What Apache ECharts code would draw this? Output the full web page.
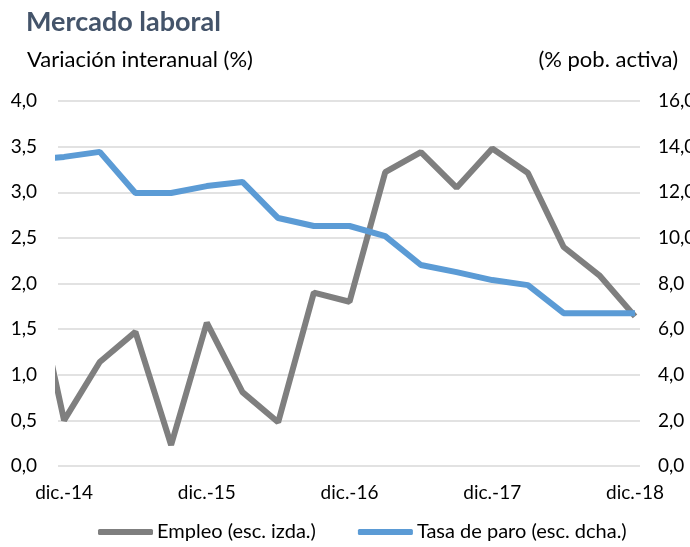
<!DOCTYPE html>
<html>
<head>
<meta charset="utf-8">
<script src="https://cdn.jsdelivr.net/npm/echarts@6/dist/echarts.min.js"></script>
<style>
  html, body { margin: 0; padding: 0; background: #fff; }
  #chart { width: 690px; height: 547px; }
</style>
</head>
<body>
<div id="chart"></div>
<script>
// trimestres, el primero (sep.-14) queda recortado por el borde del grafico
var quarters = ['sep.-14', 'dic.-14', 'mar.-15', 'jun.-15', 'sep.-15', 'dic.-15', 'mar.-16', 'jun.-16', 'sep.-16',
                'dic.-16', 'mar.-17', 'jun.-17', 'sep.-17', 'dic.-17', 'mar.-18', 'jun.-18', 'sep.-18', 'dic.-18'];
var empleo = [2.3, 0.50, 1.14, 1.47, 0.23, 1.57, 0.81, 0.48, 1.90, 1.80, 3.22, 3.44, 3.05, 3.48, 3.21, 2.40, 2.09, 1.64];
var paro = [13.4, 13.55, 13.77, 11.97, 11.97, 12.27, 12.45, 10.87, 10.52, 10.52, 10.08, 8.81, 8.50, 8.15, 7.93, 6.70, 6.70, 6.70];
var xTicks = ['dic.-14', 'dic.-15', 'dic.-16', 'dic.-17', 'dic.-18'];
var leftTicks = [0, 0.5, 1, 1.5, 2, 2.5, 3, 3.5, 4];
var rightTicks = [0, 2, 4, 6, 8, 10, 12, 14, 16];

var font = 'Lato, "Open Sans", sans-serif';

// posicion en el eje: dic.-14 = 0
function toPoints(arr) {
    var out = [];
    for (var i = 0; i < arr.length; i++) {
        out.push([i - 1, arr[i]]);
    }
    return out;
}
function coma(v) {
    return v.toFixed(1).replace('.', ',');
}

var option = {
    animation: false,
    title: [
        { text: 'Mercado laboral', left: 21, top: 4,
          textStyle: { fontFamily: font, fontSize: 27, fontWeight: 'bold', color: '#44546a' } },
        { text: 'Variación interanual (%)', left: 22, top: 44,
          textStyle: { fontFamily: font, fontSize: 22, fontWeight: 'normal', color: '#000' } },
        { text: '(% pob. activa)', right: 7, top: 44,
          textStyle: { fontFamily: font, fontSize: 22, fontWeight: 'normal', color: '#000' } }
    ],
    grid: { left: 58, right: 50, top: 101, bottom: 81, outerBoundsMode: 'none' },
    legend: {
        bottom: 0,
        left: 93,
        itemWidth: 55,
        itemHeight: 6,
        itemGap: 42,
        icon: 'roundRect',
        textStyle: { fontFamily: font, fontSize: 20, color: '#000', padding: [0, 0, 0, -1] },
        data: ['Empleo (esc. izda.)', 'Tasa de paro (esc. dcha.)']
    },
    xAxis: {
        type: 'value',
        min: -0.17,
        max: 16.14,
        axisLine: { show: false },
        axisTick: { show: false },
        splitLine: { show: false },
        axisLabel: {
            customValues: [0, 4, 8, 12, 16],
            formatter: function (v) { return xTicks[Math.round(v / 4)]; },
            fontFamily: font, fontSize: 19, color: '#000', margin: 17
        }
    },
    yAxis: [
        {
            type: 'value', min: 0, max: 4, interval: 0.5,
            axisLine: { show: false }, axisTick: { show: false },
            splitLine: { lineStyle: { color: '#d9d9d9', width: 1.5 } },
            axisLabel: { formatter: coma, fontFamily: font, fontSize: 19, color: '#000', margin: 21 }
        },
        {
            type: 'value', min: 0, max: 16, interval: 2,
            axisLine: { show: false }, axisTick: { show: false },
            splitLine: { show: false },
            axisLabel: { formatter: coma, fontFamily: font, fontSize: 19, color: '#000', margin: 18 }
        }
    ],
    series: [
        {
            name: 'Empleo (esc. izda.)',
            type: 'line',
            yAxisIndex: 0,
            symbol: 'none',
            clip: true,
            lineStyle: { color: '#7f7f7f', width: 6 },
            itemStyle: { color: '#7f7f7f' },
            data: toPoints(empleo)
        },
        {
            name: 'Tasa de paro (esc. dcha.)',
            type: 'line',
            yAxisIndex: 1,
            symbol: 'none',
            clip: true,
            lineStyle: { color: '#5b9bd5', width: 6 },
            itemStyle: { color: '#5b9bd5' },
            data: toPoints(paro)
        }
    ]
};

var myChart = echarts.init(document.getElementById('chart'));
myChart.setOption(option);
</script>
</body>
</html>
